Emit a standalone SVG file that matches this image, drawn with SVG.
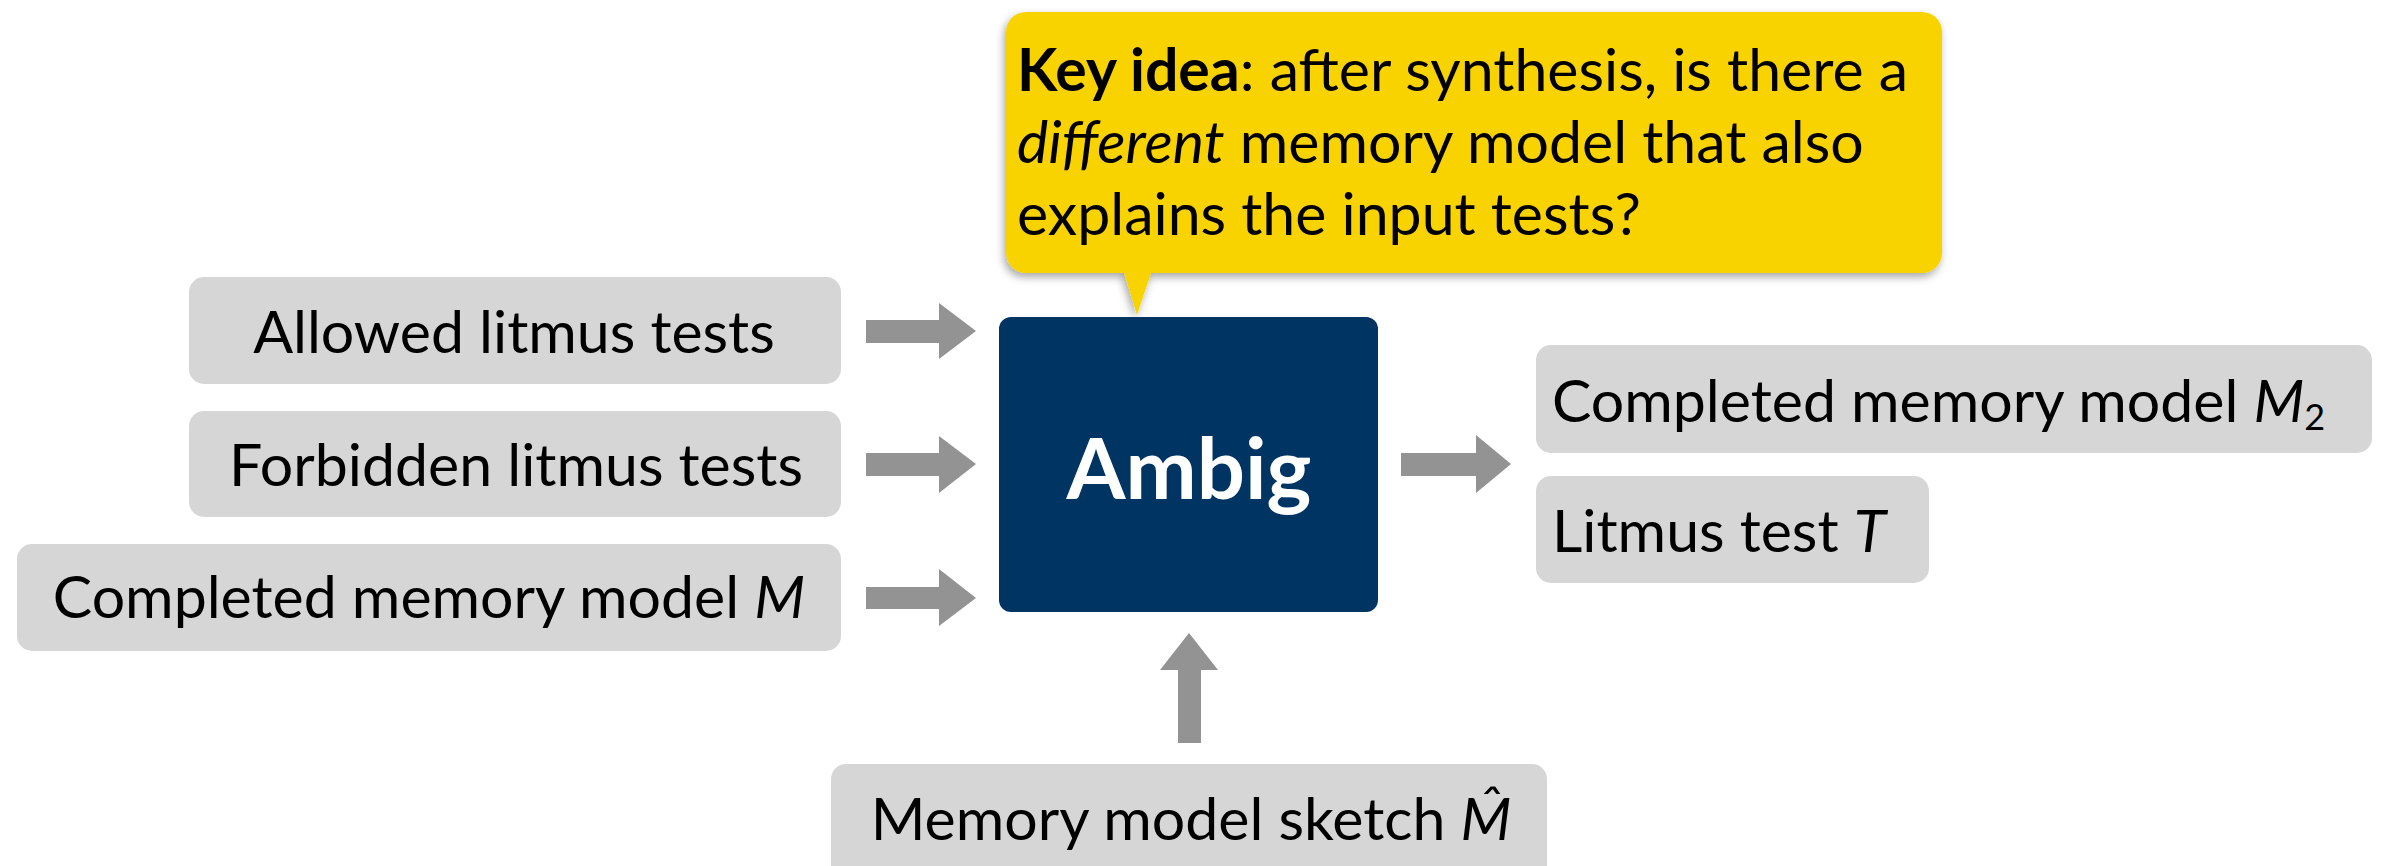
<svg xmlns="http://www.w3.org/2000/svg" width="2383" height="866" viewBox="0 0 2383 866">
  <style>
    .box { fill: #d6d6d6; }
    .lbl { font-family: Lato, "Open Sans", "Liberation Sans", sans-serif; font-size: 59px; fill: #000; }
    .arrow { fill: #939393; }
    .it { font-style: italic; }
  </style>
  <defs>
    <filter id="shadow" x="-5%" y="-10%" width="110%" height="130%">
      <feDropShadow dx="-2" dy="4" stdDeviation="4" flood-color="#000" flood-opacity="0.35"/>
    </filter>
  </defs>
  <rect width="2383" height="866" fill="#fff"/>

  <g id="callout">
    <path d="M1026,12 H1922 A20,20 0 0 1 1942,32 V253 A20,20 0 0 1 1922,273 H1151 L1137,315 L1124,273 H1026 A20,20 0 0 1 1006,253 V32 A20,20 0 0 1 1026,12 Z" fill="#f8d300" filter="url(#shadow)"/>
    <text class="lbl" x="1017" y="91" font-size="57.5"><tspan font-weight="bold">Key idea</tspan>: after synthesis, is there a</text>
    <text class="lbl" x="1017" y="163" font-size="57.5"><tspan class="it">different</tspan> memory model that also</text>
    <text class="lbl" x="1017" y="235" font-size="57.5">explains the input tests?</text>
  </g>

  <g id="allowed">
    <rect class="box" x="189" y="277" width="652" height="107" rx="15"/>
    <text class="lbl" x="514" y="353" text-anchor="middle">Allowed litmus tests</text>
  </g>
  <g id="forbidden">
    <rect class="box" x="189" y="411" width="652" height="106" rx="15"/>
    <text class="lbl" x="516" y="486" text-anchor="middle">Forbidden litmus tests</text>
  </g>
  <g id="completed">
    <rect class="box" x="17" y="544" width="824" height="107" rx="15"/>
    <text class="lbl" x="429" y="618" text-anchor="middle">Completed memory model <tspan class="it">M</tspan></text>
  </g>

  <g id="ambig">
    <rect x="999" y="317" width="379" height="295" rx="12" fill="#003462"/>
    <text x="1189" y="499" text-anchor="middle" font-family="Lato, 'Open Sans', 'Liberation Sans', sans-serif" font-size="85" font-weight="bold" fill="#fff">Ambig</text>
  </g>

  <g id="out-m2">
    <rect class="box" x="1536" y="345" width="836" height="108" rx="15"/>
    <text class="lbl" x="1552" y="422">Completed memory model <tspan class="it">M</tspan><tspan font-size="36" dy="8">2</tspan></text>
  </g>
  <g id="out-t">
    <rect class="box" x="1536" y="476" width="393" height="107" rx="15"/>
    <text class="lbl" x="1552" y="552">Litmus test <tspan class="it">T</tspan></text>
  </g>

  <g id="sketch">
    <rect class="box" x="831" y="764" width="716" height="120" rx="15"/>
    <text class="lbl" x="1191" y="840" text-anchor="middle">Memory model sketch <tspan class="it">M̂</tspan></text>
  </g>

  <g id="connectors">
    <path class="arrow" d="M866,320 H939 V303 L976,331 L939,359 V343 H866 Z"/>
    <path class="arrow" d="M866,453 H939 V436 L976,464 L939,493 V476 H866 Z"/>
    <path class="arrow" d="M866,587 H939 V569 L976,598 L939,626 V609 H866 Z"/>
    <path class="arrow" d="M1401,453 H1476 V435 L1511,464 L1476,493 V476 H1401 Z"/>
    <path class="arrow" d="M1178,743 V670 H1160 L1189,633 L1218,670 H1201 V743 Z"/>
  </g>
</svg>
